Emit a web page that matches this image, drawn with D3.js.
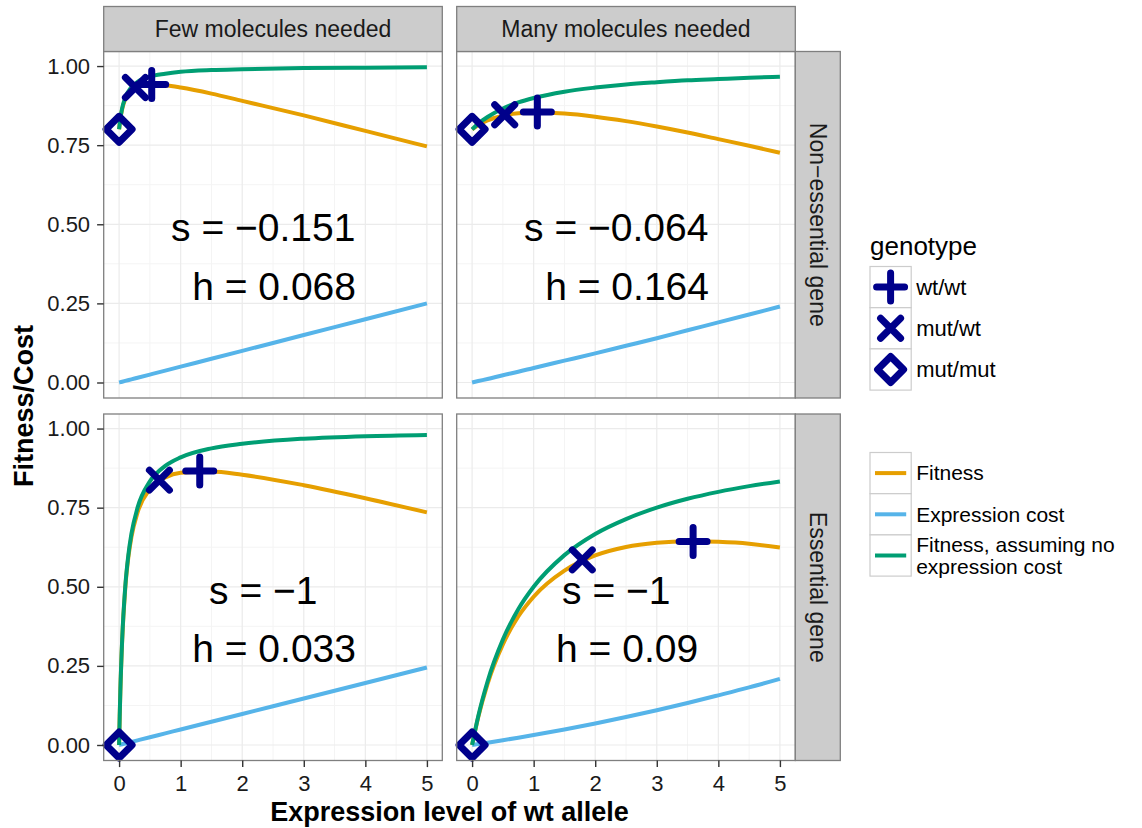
<!DOCTYPE html>
<html>
<head>
<meta charset="utf-8">
<script src="https://cdn.jsdelivr.net/npm/d3@7"></script>
<style>
    body { margin: 0; background: #fff; }
    text { font-family: "Liberation Sans", Arial, Helvetica, sans-serif; }
</style>
</head>
<body>
<div id="vis"></div>
<script>
//size of the whole picture
const width = 1142
const height = 828

//facet labels
const columns = ['Few molecules needed', 'Many molecules needed']
const rows = ['Non\u2212essential gene', 'Essential gene']

//axis ticks
const xTicks = [0, 1, 2, 3, 4, 5]
const yTicks = [0, 0.25, 0.5, 0.75, 1]
const yTickLabels = ['0.00', '0.25', '0.50', '0.75', '1.00']

//few molecules needed, non-essential gene
const fewNonX = [0, 0.02, 0.05, 0.1, 0.2, 0.3, 0.5, 0.75, 1, 1.5, 2, 3, 4, 5]
const fewNonFitness = [0.8, 0.832, 0.864, 0.895, 0.923, 0.935, 0.942, 0.939, 0.932, 0.913, 0.89, 0.844, 0.795, 0.746]
const fewNonCost = [0, 0.001, 0.0025, 0.005, 0.01, 0.015, 0.025, 0.0375, 0.05, 0.075, 0.1, 0.15, 0.2, 0.25]
const fewNonNoCost = [0.8, 0.833, 0.867, 0.9, 0.933, 0.95, 0.967, 0.976, 0.982, 0.9875, 0.99, 0.9935, 0.995, 0.996]

//many molecules needed, non-essential gene
const manyNonX = [0, 0.1, 0.25, 0.5, 0.75, 1, 1.5, 2, 2.5, 3, 3.5, 4, 4.5, 5]
const manyNonFitness = [0.8, 0.8135, 0.828, 0.843, 0.851, 0.853, 0.85, 0.84, 0.826, 0.809, 0.79, 0.769, 0.748, 0.726]
const manyNonCost = [0, 0.0045, 0.011, 0.023, 0.034, 0.046, 0.069, 0.092, 0.116, 0.14, 0.165, 0.19, 0.215, 0.24]
const manyNonNoCost = [0.8, 0.818, 0.839, 0.866, 0.885, 0.899, 0.919, 0.932, 0.942, 0.949, 0.955, 0.959, 0.963, 0.966]

//few molecules needed, essential gene
const fewEssX = [0, 0.01, 0.02, 0.05, 0.1, 0.15, 0.2, 0.3, 0.5, 0.75, 1, 1.5, 2, 3, 4, 5]
const fewEssFitness = [0, 0.0905, 0.166, 0.3305, 0.495, 0.5926, 0.657, 0.735, 0.8085, 0.845, 0.86, 0.864, 0.854, 0.821, 0.78, 0.735]
const fewEssCost = [0, 0.0005, 0.001, 0.0025, 0.0049, 0.0074, 0.0098, 0.0147, 0.0245, 0.0368, 0.049, 0.0735, 0.098, 0.147, 0.196, 0.245]
const fewEssNoCost = [0, 0.091, 0.167, 0.333, 0.5, 0.6, 0.667, 0.75, 0.833, 0.882, 0.909, 0.9375, 0.952, 0.968, 0.976, 0.98]

//many molecules needed, essential gene
const manyEssX = [0, 0.1, 0.25, 0.5, 0.75, 1, 1.5, 2, 2.5, 3, 3.5, 4, 4.5, 5]
const manyEssFitness = [0, 0.088, 0.1926, 0.318, 0.406, 0.4686, 0.551, 0.599, 0.6257, 0.639, 0.644, 0.642, 0.636, 0.624]
const manyEssCost = [0, 0.0029, 0.0074, 0.0151, 0.0231, 0.0314, 0.049, 0.068, 0.0883, 0.11, 0.1327, 0.157, 0.182, 0.209]
const manyEssNoCost = [0, 0.091, 0.2, 0.333, 0.429, 0.5, 0.6, 0.667, 0.714, 0.75, 0.778, 0.8, 0.818, 0.833]

//genotype points: wt/wt, mut/wt, mut/mut
const genotypes = ['wt/wt', 'mut/wt', 'mut/mut']
const fewNonGenoX = [0.53, 0.265, 0]
const fewNonGenoY = [0.942, 0.9325, 0.8]
const manyNonGenoX = [1.06, 0.53, 0]
const manyNonGenoY = [0.855, 0.846, 0.8]
const fewEssGenoX = [1.31, 0.655, 0]
const fewEssGenoY = [0.866, 0.837, 0]
const manyEssGenoX = [3.59, 1.79, 0]
const manyEssGenoY = [0.643, 0.585, 0]

//selection and dominance labels
const sValues = ['\u22120.151', '\u22120.064', '\u22121', '\u22121']
const hValues = ['0.068', '0.164', '0.033', '0.09']

//line legend
const lineNames = ['Fitness', 'Expression cost', 'Fitness, assuming no expression cost']
const lineColors = ['#E69F00', '#56B4E9', '#009E73']
const pointColor = '#00008B'

//build the four panels from the arrays
const panels = [
    {col: 0, row: 0, x: fewNonX, series: [fewNonFitness, fewNonCost, fewNonNoCost], gx: fewNonGenoX, gy: fewNonGenoY},
    {col: 1, row: 0, x: manyNonX, series: [manyNonFitness, manyNonCost, manyNonNoCost], gx: manyNonGenoX, gy: manyNonGenoY},
    {col: 0, row: 1, x: fewEssX, series: [fewEssFitness, fewEssCost, fewEssNoCost], gx: fewEssGenoX, gy: fewEssGenoY},
    {col: 1, row: 1, x: manyEssX, series: [manyEssFitness, manyEssCost, manyEssNoCost], gx: manyEssGenoX, gy: manyEssGenoY}
]
panels.forEach((p, i) => { p.s = sValues[i]; p.h = hValues[i] })

//layout of the facet grid
const colLeft = [103.7, 456.7]
const rowTop = [51.5, 414]
const panelW = 338.6
const panelH = 346.5
const stripH = 45

const x = d3.scaleLinear().domain([-0.25, 5.25]).range([0, panelW])
const y = d3.scaleLinear().domain([-0.049, 1.046]).range([panelH, 0])

//marker shapes like ggplot shapes 3, 4 and 5
const shapes = {
    'wt/wt': 'M-14,0H14M0,-14V14',
    'mut/wt': 'M-10,-10L10,10M-10,10L10,-10',
    'mut/mut': 'M0,-13L13,0L0,13L-13,0Z'
}

const svg = d3.select('#vis')
    .append('svg')
    .attr('width', width)
    .attr('height', height)

svg.append('rect').attr('width', width).attr('height', height).attr('fill', '#fff')

const line = d3.line()
    .x(d => x(d[0]))
    .y(d => y(d[1]))
    .curve(d3.curveMonotoneX)

panels.forEach(p => {
    const g = svg.append('g')
        .attr('transform', `translate(${colLeft[p.col]}, ${rowTop[p.row]})`)

    g.append('rect')
        .attr('width', panelW).attr('height', panelH)
        .attr('fill', '#fff')

    //minor grid
    const xMinor = [0.5, 1.5, 2.5, 3.5, 4.5]
    const yMinor = [0.125, 0.375, 0.625, 0.875]
    g.selectAll('.xminor').data(xMinor).enter().append('line')
        .attr('x1', d => x(d)).attr('x2', d => x(d))
        .attr('y1', 0).attr('y2', panelH)
        .attr('stroke', '#F4F4F4').attr('stroke-width', 1)
    g.selectAll('.yminor').data(yMinor).enter().append('line')
        .attr('y1', d => y(d)).attr('y2', d => y(d))
        .attr('x1', 0).attr('x2', panelW)
        .attr('stroke', '#F4F4F4').attr('stroke-width', 1)

    //major grid
    g.selectAll('.xmajor').data(xTicks).enter().append('line')
        .attr('x1', d => x(d)).attr('x2', d => x(d))
        .attr('y1', 0).attr('y2', panelH)
        .attr('stroke', '#EBEBEB').attr('stroke-width', 1.2)
    g.selectAll('.ymajor').data(yTicks).enter().append('line')
        .attr('y1', d => y(d)).attr('y2', d => y(d))
        .attr('x1', 0).attr('x2', panelW)
        .attr('stroke', '#EBEBEB').attr('stroke-width', 1.2)

    //the three curves
    p.series.forEach((values, i) => {
        g.append('path')
            .attr('d', line(p.x.map((v, j) => [v, values[j]])))
            .attr('fill', 'none')
            .attr('stroke', lineColors[i])
            .attr('stroke-width', 4)
    })

    //genotype points
    genotypes.forEach((name, i) => {
        g.append('path')
            .attr('d', shapes[name])
            .attr('transform', `translate(${x(p.gx[i])}, ${y(p.gy[i])})`)
            .attr('fill', 'none')
            .attr('stroke', pointColor)
            .attr('stroke-width', 7)
            .attr('stroke-linecap', 'round')
            .attr('stroke-linejoin', 'round')
    })

    //s and h annotation
    g.append('text')
        .attr('xml:space', 'preserve')
        .style('white-space', 'pre')
        .attr('x', x(2.43)).attr('y', y(0.447))
        .attr('text-anchor', 'middle')
        .attr('font-size', 39)
        .text(`s = ${p.s} `)
    g.append('text')
        .attr('xml:space', 'preserve')
        .style('white-space', 'pre')
        .attr('x', x(2.43)).attr('y', y(0.262))
        .attr('text-anchor', 'middle')
        .attr('font-size', 39)
        .text(` h = ${p.h}`)

    //panel border
    g.append('rect')
        .attr('width', panelW).attr('height', panelH)
        .attr('fill', 'none')
        .attr('stroke', '#7F7F7F').attr('stroke-width', 1.3)

    //axes on the outer panels only
    if (p.col === 0) {
        const ax = g.append('g')
            .call(d3.axisLeft(y).tickValues(yTicks).tickFormat((d, i) => yTickLabels[i]).tickSize(6.6).tickPadding(7))
        ax.select('.domain').remove()
        ax.selectAll('line').attr('stroke', '#333').attr('stroke-width', 1.4)
        ax.selectAll('text').attr('font-size', 22).attr('fill', '#1a1a1a')
            .attr('font-family', '"Liberation Sans", Arial, sans-serif')
    }
    if (p.row === 1) {
        const ax = g.append('g')
            .attr('transform', `translate(0, ${panelH})`)
            .call(d3.axisBottom(x).tickValues(xTicks).tickFormat(d3.format('d')).tickSize(6.6).tickPadding(8))
        ax.select('.domain').remove()
        ax.selectAll('line').attr('stroke', '#333').attr('stroke-width', 1.4)
        ax.selectAll('text').attr('font-size', 22).attr('fill', '#1a1a1a')
            .attr('font-family', '"Liberation Sans", Arial, sans-serif')
    }
})

//column strips
columns.forEach((label, i) => {
    svg.append('rect')
        .attr('x', colLeft[i]).attr('y', rowTop[0] - stripH)
        .attr('width', panelW).attr('height', stripH)
        .attr('fill', '#CCCCCC').attr('stroke', '#7F7F7F').attr('stroke-width', 1.3)
    svg.append('text')
        .attr('x', colLeft[i] + panelW / 2).attr('y', rowTop[0] - stripH / 2)
        .attr('dy', '0.35em')
        .attr('text-anchor', 'middle')
        .attr('font-size', 23)
        .attr('fill', '#1a1a1a')
        .text(label)
})

//row strips
const stripX = colLeft[1] + panelW
rows.forEach((label, i) => {
    svg.append('rect')
        .attr('x', stripX).attr('y', rowTop[i])
        .attr('width', stripH).attr('height', panelH)
        .attr('fill', '#CCCCCC').attr('stroke', '#7F7F7F').attr('stroke-width', 1.3)
    svg.append('text')
        .attr('transform', `translate(${stripX + stripH / 2}, ${rowTop[i] + panelH / 2}) rotate(90)`)
        .attr('dy', '0.35em')
        .attr('text-anchor', 'middle')
        .attr('font-size', 23)
        .attr('fill', '#1a1a1a')
        .text(label)
})

//axis titles
svg.append('text')
    .attr('x', (colLeft[0] + colLeft[1] + panelW) / 2).attr('y', 821)
    .attr('text-anchor', 'middle')
    .attr('font-size', 27).attr('font-weight', 'bold')
    .text('Expression level of wt allele')

svg.append('text')
    .attr('transform', `translate(33, ${(rowTop[0] + rowTop[1] + panelH) / 2}) rotate(-90)`)
    .attr('text-anchor', 'middle')
    .attr('font-size', 27).attr('font-weight', 'bold')
    .text('Fitness/Cost')

//genotype legend
const legX = 870
const keySize = 41.2
svg.append('text')
    .attr('x', legX).attr('y', 255)
    .attr('font-size', 26)
    .text('genotype')

genotypes.forEach((name, i) => {
    const top = 266.5 + i * keySize
    svg.append('rect')
        .attr('x', legX).attr('y', top)
        .attr('width', keySize).attr('height', keySize)
        .attr('fill', '#fff').attr('stroke', '#CCCCCC').attr('stroke-width', 1.2)
    svg.append('path')
        .attr('d', shapes[name])
        .attr('transform', `translate(${legX + keySize / 2}, ${top + keySize / 2})`)
        .attr('fill', 'none')
        .attr('stroke', pointColor)
        .attr('stroke-width', 7)
        .attr('stroke-linecap', 'round')
        .attr('stroke-linejoin', 'round')
    svg.append('text')
        .attr('x', legX + keySize + 5).attr('y', top + keySize / 2)
        .attr('dy', '0.35em')
        .attr('font-size', 22)
        .text(name)
})

//line legend
const lineLabels = [['Fitness'], ['Expression cost'], ['Fitness, assuming no', 'expression cost']]
lineNames.forEach((name, i) => {
    const top = 452.5 + i * keySize
    svg.append('rect')
        .attr('x', legX).attr('y', top)
        .attr('width', keySize).attr('height', keySize)
        .attr('fill', '#fff').attr('stroke', '#CCCCCC').attr('stroke-width', 1.2)
    svg.append('line')
        .attr('x1', legX + 5).attr('x2', legX + keySize - 5)
        .attr('y1', top + keySize / 2).attr('y2', top + keySize / 2)
        .attr('stroke', lineColors[i]).attr('stroke-width', 4)
    const parts = lineLabels[i]
    parts.forEach((part, j) => {
        svg.append('text')
            .attr('x', legX + keySize + 5)
            .attr('y', top + keySize / 2 + (j - (parts.length - 1) / 2) * 22)
            .attr('dy', '0.35em')
            .attr('font-size', 21)
            .text(part)
    })
})
</script>
</body>
</html>
